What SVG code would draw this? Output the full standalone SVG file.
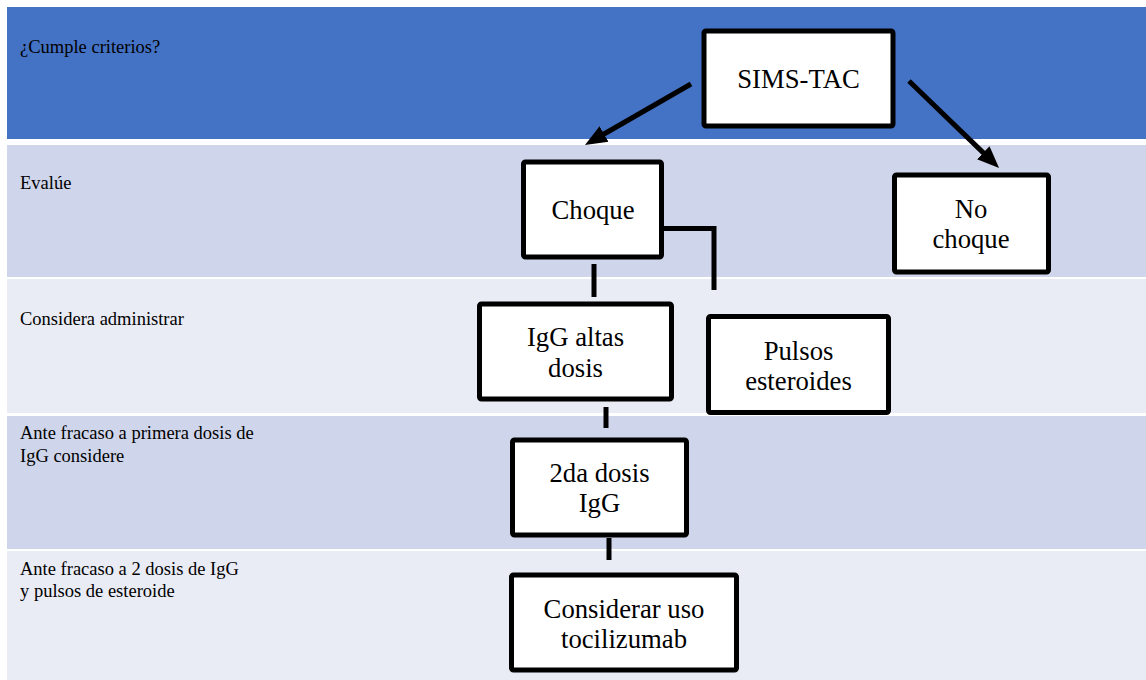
<svg xmlns="http://www.w3.org/2000/svg" width="1146" height="680" viewBox="0 0 1146 680" font-family="Liberation Serif, serif">
<style>
text{fill:#000}
.lbl{font-size:18.5px}
.bt{font-size:26.7px;text-anchor:middle}
.box{fill:#fff;stroke:#000;stroke-width:5}
.con{stroke:#000;stroke-width:5;fill:none}
</style>
<defs>
<marker id="ah" markerUnits="userSpaceOnUse" markerWidth="24" markerHeight="20" refX="2" refY="9" orient="auto" viewBox="0 0 24 18">
<path d="M0,0 L22,9 L0,18 z" fill="#000"/>
</marker>
</defs>
<rect width="1146" height="680" fill="#fff"/>
<g id="bands" font-family="Liberation Serif, serif">
<rect x="7" y="7" width="1139" height="132" fill="#4472C4"/>
<rect x="7" y="145" width="1139" height="132" fill="#CFD5EA"/>
<rect x="7" y="279" width="1139" height="134" fill="#E9EBF5"/>
<rect x="7" y="416" width="1139" height="133" fill="#CFD5EA"/>
<rect x="7" y="551" width="1139" height="129" fill="#E9EBF5"/>
<text class="lbl" x="20" y="53">¿Cumple criterios?</text>
<text class="lbl" x="20" y="189">Evalúe</text>
<text class="lbl" x="20" y="325">Considera administrar</text>
<text class="lbl" x="20" y="439">Ante fracaso a primera dosis de</text>
<text class="lbl" x="20" y="461.5">IgG considere</text>
<text class="lbl" x="20" y="575">Ante fracaso a 2 dosis de IgG</text>
<text class="lbl" x="20" y="597">y pulsos de esteroide</text>
</g>
<g id="connectors">
<line class="con" x1="691" y1="84" x2="602.3" y2="135" marker-end="url(#ah)"/>
<line class="con" x1="909" y1="81" x2="984.7" y2="154.1" marker-end="url(#ah)"/>
<line class="con" x1="594" y1="264" x2="594" y2="297"/>
<polyline class="con" points="651,228.5 714,228.5 714,290"/>
<line class="con" x1="606" y1="407" x2="606" y2="428"/>
<line class="con" x1="609" y1="538" x2="609" y2="560"/>
</g>
<g id="sims-tac" font-family="Liberation Serif, serif">
<rect class="box" x="704" y="31" width="189" height="95" rx="2"/>
<text class="bt" x="798.5" y="88">SIMS-TAC</text>
</g>
<g id="choque" font-family="Liberation Serif, serif">
<rect class="box" x="523.5" y="162" width="138" height="95" rx="2"/>
<text class="bt" x="593" y="219">Choque</text>
</g>
<g id="no-choque" font-family="Liberation Serif, serif">
<rect class="box" x="894.5" y="175" width="154" height="97" rx="2"/>
<text class="bt" x="971" y="218">No</text>
<text class="bt" x="971" y="248">choque</text>
</g>
<g id="igg-altas" font-family="Liberation Serif, serif">
<rect class="box" x="479.5" y="304" width="192" height="95" rx="2"/>
<text class="bt" x="575.5" y="346">IgG altas</text>
<text class="bt" x="575.5" y="376.5">dosis</text>
</g>
<g id="pulsos" font-family="Liberation Serif, serif">
<rect class="box" x="708.5" y="316.5" width="180" height="96" rx="2"/>
<text class="bt" x="798.5" y="360">Pulsos</text>
<text class="bt" x="798.5" y="389.5">esteroides</text>
</g>
<g id="segunda-dosis" font-family="Liberation Serif, serif">
<rect class="box" x="512.5" y="440" width="174" height="95" rx="2"/>
<text class="bt" x="599.5" y="481.5">2da dosis</text>
<text class="bt" x="599.5" y="511.5">IgG</text>
</g>
<g id="tocilizumab" font-family="Liberation Serif, serif">
<rect class="box" x="511.5" y="575" width="225" height="95" rx="2"/>
<text class="bt" x="624" y="618">Considerar uso</text>
<text class="bt" x="624" y="648">tocilizumab</text>
</g>
</svg>
